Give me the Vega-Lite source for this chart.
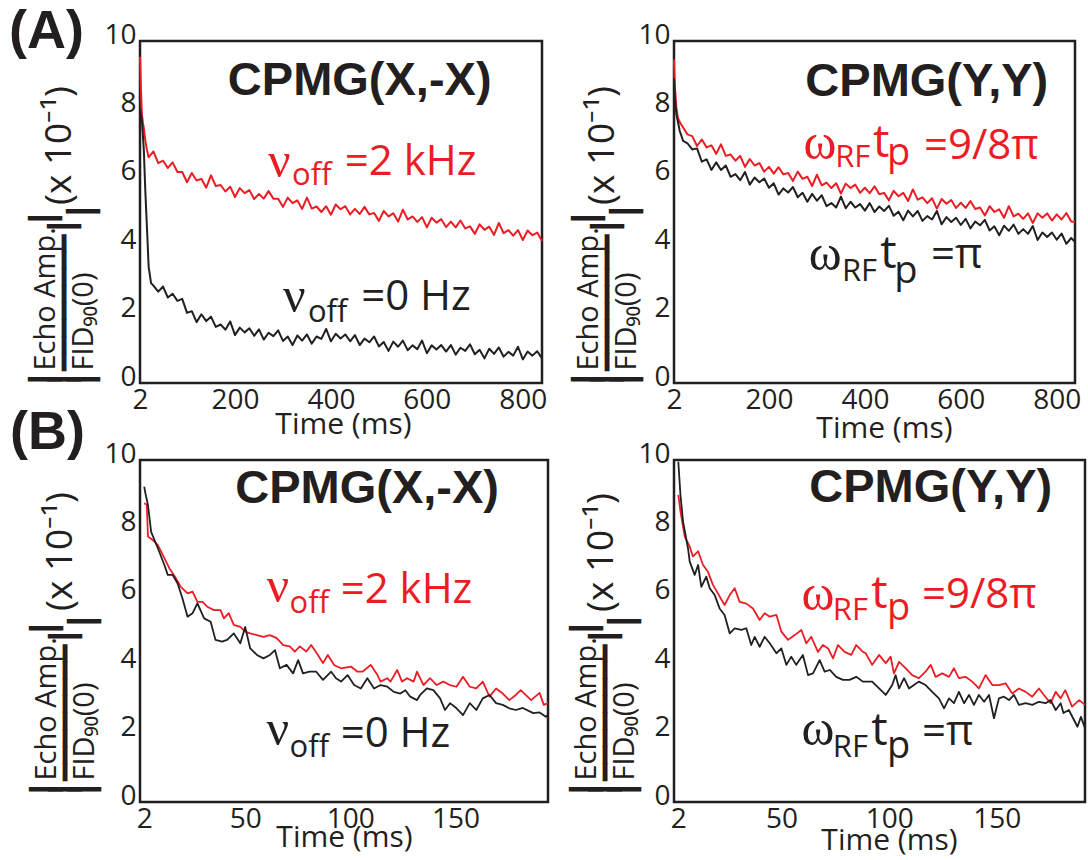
{
  "$schema": "https://vega.github.io/schema/vega-lite/v6.json",
  "padding": {"left": 7, "top": 3, "right": 0, "bottom": 0},
  "background": "white",
  "datasets": {
    "lines": [
      {"p":"AL","s":"r","t":2,"v":9.54},{"p":"AL","s":"r","t":4,"v":8.6},{"p":"AL","s":"r","t":6,"v":7.85},{"p":"AL","s":"r","t":8,"v":7.62},{"p":"AL","s":"r","t":10,"v":7.45},{"p":"AL","s":"r","t":13,"v":7.1},{"p":"AL","s":"r","t":16,"v":6.85},{"p":"AL","s":"r","t":20,"v":6.6},
      {"p":"AL","s":"r","t":30,"v":6.77},{"p":"AL","s":"r","t":40,"v":6.43},{"p":"AL","s":"r","t":50,"v":6.5},{"p":"AL","s":"r","t":60,"v":6.29},{"p":"AL","s":"r","t":70,"v":6.45},{"p":"AL","s":"r","t":80,"v":6.17},{"p":"AL","s":"r","t":90,"v":6.17},{"p":"AL","s":"r","t":100,"v":5.87},
      {"p":"AL","s":"r","t":110,"v":6.14},{"p":"AL","s":"r","t":120,"v":5.92},{"p":"AL","s":"r","t":130,"v":5.97},{"p":"AL","s":"r","t":140,"v":5.71},{"p":"AL","s":"r","t":150,"v":6.07},{"p":"AL","s":"r","t":160,"v":5.76},{"p":"AL","s":"r","t":170,"v":5.79},{"p":"AL","s":"r","t":180,"v":5.6},
      {"p":"AL","s":"r","t":190,"v":5.74},{"p":"AL","s":"r","t":200,"v":5.44},{"p":"AL","s":"r","t":210,"v":5.7},{"p":"AL","s":"r","t":220,"v":5.55},{"p":"AL","s":"r","t":230,"v":5.64},{"p":"AL","s":"r","t":240,"v":5.38},{"p":"AL","s":"r","t":250,"v":5.53},{"p":"AL","s":"r","t":260,"v":5.39},
      {"p":"AL","s":"r","t":270,"v":5.61},{"p":"AL","s":"r","t":280,"v":5.39},{"p":"AL","s":"r","t":290,"v":5.39},{"p":"AL","s":"r","t":300,"v":5.15},{"p":"AL","s":"r","t":310,"v":5.42},{"p":"AL","s":"r","t":320,"v":5.26},{"p":"AL","s":"r","t":330,"v":5.34},{"p":"AL","s":"r","t":340,"v":5.09},
      {"p":"AL","s":"r","t":350,"v":5.42},{"p":"AL","s":"r","t":360,"v":5.1},{"p":"AL","s":"r","t":370,"v":5.16},{"p":"AL","s":"r","t":380,"v":5.0},{"p":"AL","s":"r","t":390,"v":5.17},{"p":"AL","s":"r","t":400,"v":4.92},{"p":"AL","s":"r","t":410,"v":5.22},{"p":"AL","s":"r","t":420,"v":5.08},
      {"p":"AL","s":"r","t":430,"v":5.17},{"p":"AL","s":"r","t":440,"v":4.93},{"p":"AL","s":"r","t":450,"v":5.09},{"p":"AL","s":"r","t":460,"v":4.94},{"p":"AL","s":"r","t":470,"v":5.15},{"p":"AL","s":"r","t":480,"v":4.93},{"p":"AL","s":"r","t":490,"v":4.97},{"p":"AL","s":"r","t":500,"v":4.74},
      {"p":"AL","s":"r","t":510,"v":5.03},{"p":"AL","s":"r","t":520,"v":4.87},{"p":"AL","s":"r","t":530,"v":4.96},{"p":"AL","s":"r","t":540,"v":4.72},{"p":"AL","s":"r","t":550,"v":5.07},{"p":"AL","s":"r","t":560,"v":4.78},{"p":"AL","s":"r","t":570,"v":4.87},{"p":"AL","s":"r","t":580,"v":4.71},
      {"p":"AL","s":"r","t":590,"v":4.85},{"p":"AL","s":"r","t":600,"v":4.55},{"p":"AL","s":"r","t":610,"v":4.83},{"p":"AL","s":"r","t":620,"v":4.69},{"p":"AL","s":"r","t":630,"v":4.79},{"p":"AL","s":"r","t":640,"v":4.56},{"p":"AL","s":"r","t":650,"v":4.72},{"p":"AL","s":"r","t":660,"v":4.55},
      {"p":"AL","s":"r","t":670,"v":4.75},{"p":"AL","s":"r","t":680,"v":4.52},{"p":"AL","s":"r","t":690,"v":4.58},{"p":"AL","s":"r","t":700,"v":4.36},{"p":"AL","s":"r","t":710,"v":4.64},{"p":"AL","s":"r","t":720,"v":4.48},{"p":"AL","s":"r","t":730,"v":4.57},{"p":"AL","s":"r","t":740,"v":4.33},
      {"p":"AL","s":"r","t":750,"v":4.68},{"p":"AL","s":"r","t":760,"v":4.38},{"p":"AL","s":"r","t":770,"v":4.47},{"p":"AL","s":"r","t":780,"v":4.31},{"p":"AL","s":"r","t":790,"v":4.47},{"p":"AL","s":"r","t":800,"v":4.18},{"p":"AL","s":"r","t":810,"v":4.46},{"p":"AL","s":"r","t":820,"v":4.32},
      {"p":"AL","s":"r","t":830,"v":4.4},{"p":"AL","s":"r","t":840,"v":4.15},

      {"p":"AL","s":"k","t":2,"v":8.0},{"p":"AL","s":"k","t":4,"v":7.85},{"p":"AL","s":"k","t":6,"v":7.69},{"p":"AL","s":"k","t":10,"v":6.81},{"p":"AL","s":"k","t":13,"v":5.64},{"p":"AL","s":"k","t":17,"v":4.38},{"p":"AL","s":"k","t":20,"v":3.4},{"p":"AL","s":"k","t":25,"v":2.92},
      {"p":"AL","s":"k","t":30,"v":2.85},{"p":"AL","s":"k","t":40,"v":2.67},{"p":"AL","s":"k","t":50,"v":2.82},{"p":"AL","s":"k","t":60,"v":2.5},{"p":"AL","s":"k","t":70,"v":2.61},{"p":"AL","s":"k","t":80,"v":2.4},{"p":"AL","s":"k","t":90,"v":2.46},{"p":"AL","s":"k","t":100,"v":2.05},
      {"p":"AL","s":"k","t":110,"v":2.1},{"p":"AL","s":"k","t":120,"v":1.78},{"p":"AL","s":"k","t":130,"v":2.01},{"p":"AL","s":"k","t":140,"v":1.81},{"p":"AL","s":"k","t":150,"v":1.94},{"p":"AL","s":"k","t":160,"v":1.64},{"p":"AL","s":"k","t":170,"v":1.71},{"p":"AL","s":"k","t":180,"v":1.56},
      {"p":"AL","s":"k","t":190,"v":1.8},{"p":"AL","s":"k","t":200,"v":1.4},{"p":"AL","s":"k","t":210,"v":1.62},{"p":"AL","s":"k","t":220,"v":1.48},{"p":"AL","s":"k","t":230,"v":1.6},{"p":"AL","s":"k","t":240,"v":1.38},{"p":"AL","s":"k","t":250,"v":1.57},{"p":"AL","s":"k","t":260,"v":1.27},
      {"p":"AL","s":"k","t":270,"v":1.47},{"p":"AL","s":"k","t":280,"v":1.37},{"p":"AL","s":"k","t":290,"v":1.54},{"p":"AL","s":"k","t":300,"v":1.23},{"p":"AL","s":"k","t":310,"v":1.36},{"p":"AL","s":"k","t":320,"v":1.11},{"p":"AL","s":"k","t":330,"v":1.39},{"p":"AL","s":"k","t":340,"v":1.24},
      {"p":"AL","s":"k","t":350,"v":1.42},{"p":"AL","s":"k","t":360,"v":1.15},{"p":"AL","s":"k","t":370,"v":1.36},{"p":"AL","s":"k","t":380,"v":1.29},{"p":"AL","s":"k","t":390,"v":1.58},{"p":"AL","s":"k","t":400,"v":1.22},{"p":"AL","s":"k","t":410,"v":1.44},{"p":"AL","s":"k","t":420,"v":1.3},
      {"p":"AL","s":"k","t":430,"v":1.42},{"p":"AL","s":"k","t":440,"v":1.22},{"p":"AL","s":"k","t":450,"v":1.4},{"p":"AL","s":"k","t":460,"v":1.11},{"p":"AL","s":"k","t":470,"v":1.3},{"p":"AL","s":"k","t":480,"v":1.19},{"p":"AL","s":"k","t":490,"v":1.36},{"p":"AL","s":"k","t":500,"v":1.07},
      {"p":"AL","s":"k","t":510,"v":1.2},{"p":"AL","s":"k","t":520,"v":0.94},{"p":"AL","s":"k","t":530,"v":1.21},{"p":"AL","s":"k","t":540,"v":1.06},{"p":"AL","s":"k","t":550,"v":1.24},{"p":"AL","s":"k","t":560,"v":0.96},{"p":"AL","s":"k","t":570,"v":1.1},{"p":"AL","s":"k","t":580,"v":0.99},
      {"p":"AL","s":"k","t":590,"v":1.24},{"p":"AL","s":"k","t":600,"v":0.87},{"p":"AL","s":"k","t":610,"v":1.1},{"p":"AL","s":"k","t":620,"v":0.98},{"p":"AL","s":"k","t":630,"v":1.11},{"p":"AL","s":"k","t":640,"v":0.92},{"p":"AL","s":"k","t":650,"v":1.11},{"p":"AL","s":"k","t":660,"v":0.83},
      {"p":"AL","s":"k","t":670,"v":1.03},{"p":"AL","s":"k","t":680,"v":0.94},{"p":"AL","s":"k","t":690,"v":1.13},{"p":"AL","s":"k","t":700,"v":0.84},{"p":"AL","s":"k","t":710,"v":0.97},{"p":"AL","s":"k","t":720,"v":0.72},{"p":"AL","s":"k","t":730,"v":1.0},{"p":"AL","s":"k","t":740,"v":0.85},
      {"p":"AL","s":"k","t":750,"v":1.04},{"p":"AL","s":"k","t":760,"v":0.77},{"p":"AL","s":"k","t":770,"v":0.91},{"p":"AL","s":"k","t":780,"v":0.8},{"p":"AL","s":"k","t":790,"v":1.06},{"p":"AL","s":"k","t":800,"v":0.69},{"p":"AL","s":"k","t":810,"v":0.92},{"p":"AL","s":"k","t":820,"v":0.8},
      {"p":"AL","s":"k","t":830,"v":0.93},{"p":"AL","s":"k","t":840,"v":0.72},

      {"p":"AR","s":"r","t":2,"v":9.46},{"p":"AR","s":"r","t":4,"v":8.63},{"p":"AR","s":"r","t":7,"v":8.05},{"p":"AR","s":"r","t":10,"v":7.76},{"p":"AR","s":"r","t":15,"v":7.6},{"p":"AR","s":"r","t":21,"v":7.47},
      {"p":"AR","s":"r","t":30,"v":7.27},{"p":"AR","s":"r","t":40,"v":7.22},{"p":"AR","s":"r","t":50,"v":6.93},{"p":"AR","s":"r","t":60,"v":7.12},{"p":"AR","s":"r","t":70,"v":6.89},{"p":"AR","s":"r","t":80,"v":6.95},{"p":"AR","s":"r","t":90,"v":6.7},{"p":"AR","s":"r","t":100,"v":6.98},
      {"p":"AR","s":"r","t":110,"v":6.64},{"p":"AR","s":"r","t":120,"v":6.68},{"p":"AR","s":"r","t":130,"v":6.5},{"p":"AR","s":"r","t":140,"v":6.64},{"p":"AR","s":"r","t":150,"v":6.32},{"p":"AR","s":"r","t":160,"v":6.55},{"p":"AR","s":"r","t":170,"v":6.36},{"p":"AR","s":"r","t":180,"v":6.43},
      {"p":"AR","s":"r","t":190,"v":6.18},{"p":"AR","s":"r","t":200,"v":6.32},{"p":"AR","s":"r","t":210,"v":6.12},{"p":"AR","s":"r","t":220,"v":6.31},{"p":"AR","s":"r","t":230,"v":6.1},{"p":"AR","s":"r","t":240,"v":6.14},{"p":"AR","s":"r","t":250,"v":5.91},{"p":"AR","s":"r","t":260,"v":6.18},
      {"p":"AR","s":"r","t":270,"v":5.97},{"p":"AR","s":"r","t":280,"v":6.03},{"p":"AR","s":"r","t":290,"v":5.76},{"p":"AR","s":"r","t":300,"v":6.09},{"p":"AR","s":"r","t":310,"v":5.78},{"p":"AR","s":"r","t":320,"v":5.86},{"p":"AR","s":"r","t":330,"v":5.7},{"p":"AR","s":"r","t":340,"v":5.84},
      {"p":"AR","s":"r","t":350,"v":5.54},{"p":"AR","s":"r","t":360,"v":5.83},{"p":"AR","s":"r","t":370,"v":5.7},{"p":"AR","s":"r","t":380,"v":5.8},{"p":"AR","s":"r","t":390,"v":5.56},{"p":"AR","s":"r","t":400,"v":5.71},{"p":"AR","s":"r","t":410,"v":5.55},{"p":"AR","s":"r","t":420,"v":5.75},
      {"p":"AR","s":"r","t":430,"v":5.52},{"p":"AR","s":"r","t":440,"v":5.56},{"p":"AR","s":"r","t":450,"v":5.34},{"p":"AR","s":"r","t":460,"v":5.62},{"p":"AR","s":"r","t":470,"v":5.46},{"p":"AR","s":"r","t":480,"v":5.56},{"p":"AR","s":"r","t":490,"v":5.32},{"p":"AR","s":"r","t":500,"v":5.66},
      {"p":"AR","s":"r","t":510,"v":5.36},{"p":"AR","s":"r","t":520,"v":5.43},{"p":"AR","s":"r","t":530,"v":5.26},{"p":"AR","s":"r","t":540,"v":5.4},{"p":"AR","s":"r","t":550,"v":5.1},{"p":"AR","s":"r","t":560,"v":5.38},{"p":"AR","s":"r","t":570,"v":5.24},{"p":"AR","s":"r","t":580,"v":5.35},
      {"p":"AR","s":"r","t":590,"v":5.12},{"p":"AR","s":"r","t":600,"v":5.27},{"p":"AR","s":"r","t":610,"v":5.12},{"p":"AR","s":"r","t":620,"v":5.32},{"p":"AR","s":"r","t":630,"v":5.09},{"p":"AR","s":"r","t":640,"v":5.13},{"p":"AR","s":"r","t":650,"v":4.9},{"p":"AR","s":"r","t":660,"v":5.17},
      {"p":"AR","s":"r","t":670,"v":5.0},{"p":"AR","s":"r","t":680,"v":5.08},{"p":"AR","s":"r","t":690,"v":4.83},{"p":"AR","s":"r","t":700,"v":5.17},{"p":"AR","s":"r","t":710,"v":4.87},{"p":"AR","s":"r","t":720,"v":4.95},{"p":"AR","s":"r","t":730,"v":4.8},{"p":"AR","s":"r","t":740,"v":4.96},
      {"p":"AR","s":"r","t":750,"v":4.68},{"p":"AR","s":"r","t":760,"v":4.96},{"p":"AR","s":"r","t":770,"v":4.83},{"p":"AR","s":"r","t":780,"v":4.96},{"p":"AR","s":"r","t":790,"v":4.75},{"p":"AR","s":"r","t":800,"v":4.93},{"p":"AR","s":"r","t":810,"v":4.78},{"p":"AR","s":"r","t":820,"v":4.97},
      {"p":"AR","s":"r","t":830,"v":4.72},{"p":"AR","s":"r","t":838,"v":4.71},

      {"p":"AR","s":"k","t":2,"v":8.9},{"p":"AR","s":"k","t":4,"v":8.3},{"p":"AR","s":"k","t":7,"v":7.86},{"p":"AR","s":"k","t":14,"v":7.37},{"p":"AR","s":"k","t":21,"v":7.08},
      {"p":"AR","s":"k","t":30,"v":7.01},{"p":"AR","s":"k","t":40,"v":6.83},{"p":"AR","s":"k","t":50,"v":6.86},{"p":"AR","s":"k","t":60,"v":6.47},{"p":"AR","s":"k","t":70,"v":6.54},{"p":"AR","s":"k","t":80,"v":6.23},{"p":"AR","s":"k","t":90,"v":6.45},{"p":"AR","s":"k","t":100,"v":6.23},
      {"p":"AR","s":"k","t":110,"v":6.36},{"p":"AR","s":"k","t":120,"v":6.03},{"p":"AR","s":"k","t":130,"v":6.11},{"p":"AR","s":"k","t":140,"v":5.93},{"p":"AR","s":"k","t":150,"v":6.17},{"p":"AR","s":"k","t":160,"v":5.8},{"p":"AR","s":"k","t":170,"v":6.01},{"p":"AR","s":"k","t":180,"v":5.87},
      {"p":"AR","s":"k","t":190,"v":5.98},{"p":"AR","s":"k","t":200,"v":5.71},{"p":"AR","s":"k","t":210,"v":5.84},{"p":"AR","s":"k","t":220,"v":5.51},{"p":"AR","s":"k","t":230,"v":5.69},{"p":"AR","s":"k","t":240,"v":5.57},{"p":"AR","s":"k","t":250,"v":5.73},{"p":"AR","s":"k","t":260,"v":5.43},
      {"p":"AR","s":"k","t":270,"v":5.56},{"p":"AR","s":"k","t":280,"v":5.3},{"p":"AR","s":"k","t":290,"v":5.53},{"p":"AR","s":"k","t":300,"v":5.33},{"p":"AR","s":"k","t":310,"v":5.49},{"p":"AR","s":"k","t":320,"v":5.17},{"p":"AR","s":"k","t":330,"v":5.26},{"p":"AR","s":"k","t":340,"v":5.13},
      {"p":"AR","s":"k","t":350,"v":5.45},{"p":"AR","s":"k","t":360,"v":5.11},{"p":"AR","s":"k","t":370,"v":5.3},{"p":"AR","s":"k","t":380,"v":5.13},{"p":"AR","s":"k","t":390,"v":5.23},{"p":"AR","s":"k","t":400,"v":5.04},{"p":"AR","s":"k","t":410,"v":5.26},{"p":"AR","s":"k","t":420,"v":5.0},
      {"p":"AR","s":"k","t":430,"v":5.16},{"p":"AR","s":"k","t":440,"v":5.03},{"p":"AR","s":"k","t":450,"v":5.18},{"p":"AR","s":"k","t":460,"v":4.89},{"p":"AR","s":"k","t":470,"v":5.01},{"p":"AR","s":"k","t":480,"v":4.76},{"p":"AR","s":"k","t":490,"v":5.04},{"p":"AR","s":"k","t":500,"v":4.87},
      {"p":"AR","s":"k","t":510,"v":5.03},{"p":"AR","s":"k","t":520,"v":4.74},{"p":"AR","s":"k","t":530,"v":4.88},{"p":"AR","s":"k","t":540,"v":4.78},{"p":"AR","s":"k","t":550,"v":5.03},{"p":"AR","s":"k","t":560,"v":4.64},{"p":"AR","s":"k","t":570,"v":4.85},{"p":"AR","s":"k","t":580,"v":4.71},
      {"p":"AR","s":"k","t":590,"v":4.83},{"p":"AR","s":"k","t":600,"v":4.62},{"p":"AR","s":"k","t":610,"v":4.8},{"p":"AR","s":"k","t":620,"v":4.52},{"p":"AR","s":"k","t":630,"v":4.72},{"p":"AR","s":"k","t":640,"v":4.61},{"p":"AR","s":"k","t":650,"v":4.77},{"p":"AR","s":"k","t":660,"v":4.46},
      {"p":"AR","s":"k","t":670,"v":4.58},{"p":"AR","s":"k","t":680,"v":4.32},{"p":"AR","s":"k","t":690,"v":4.6},{"p":"AR","s":"k","t":700,"v":4.45},{"p":"AR","s":"k","t":710,"v":4.63},{"p":"AR","s":"k","t":720,"v":4.36},{"p":"AR","s":"k","t":730,"v":4.5},{"p":"AR","s":"k","t":740,"v":4.36},
      {"p":"AR","s":"k","t":750,"v":4.59},{"p":"AR","s":"k","t":760,"v":4.18},{"p":"AR","s":"k","t":770,"v":4.4},{"p":"AR","s":"k","t":780,"v":4.27},{"p":"AR","s":"k","t":790,"v":4.4},{"p":"AR","s":"k","t":800,"v":4.19},{"p":"AR","s":"k","t":810,"v":4.37},{"p":"AR","s":"k","t":820,"v":4.07},
      {"p":"AR","s":"k","t":830,"v":4.24},{"p":"AR","s":"k","t":838,"v":4.13},

      {"p":"BL","s":"r","t":2,"v":8.73},{"p":"BL","s":"r","t":3.2,"v":8.7},{"p":"BL","s":"r","t":3.8,"v":7.76},{"p":"BL","s":"r","t":6.1,"v":7.66},{"p":"BL","s":"r","t":8.5,"v":7.51},{"p":"BL","s":"r","t":11.6,"v":7.13},{"p":"BL","s":"r","t":14,"v":6.83},{"p":"BL","s":"r","t":17.1,"v":6.54},
      {"p":"BL","s":"r","t":19.4,"v":6.29},{"p":"BL","s":"r","t":22.6,"v":6.1},{"p":"BL","s":"r","t":25,"v":6.15},{"p":"BL","s":"r","t":27.3,"v":5.85},{"p":"BL","s":"r","t":29.7,"v":5.85},{"p":"BL","s":"r","t":32,"v":5.71},{"p":"BL","s":"r","t":35.2,"v":5.61},{"p":"BL","s":"r","t":38.3,"v":5.61},
      {"p":"BL","s":"r","t":39.9,"v":5.37},{"p":"BL","s":"r","t":42.2,"v":5.52},{"p":"BL","s":"r","t":44.6,"v":5.18},{"p":"BL","s":"r","t":47.7,"v":5.12},{"p":"BL","s":"r","t":50,"v":4.98},{"p":"BL","s":"r","t":52.4,"v":4.93},{"p":"BL","s":"r","t":55.6,"v":4.88},{"p":"BL","s":"r","t":58.7,"v":4.83},
      {"p":"BL","s":"r","t":61.8,"v":4.88},{"p":"BL","s":"r","t":65,"v":4.79},{"p":"BL","s":"r","t":68.1,"v":4.59},{"p":"BL","s":"r","t":71.2,"v":4.55},{"p":"BL","s":"r","t":73.6,"v":4.4},{"p":"BL","s":"r","t":76,"v":4.55},{"p":"BL","s":"r","t":79.1,"v":4.4},{"p":"BL","s":"r","t":81.4,"v":4.59},
      {"p":"BL","s":"r","t":84.6,"v":4.3},{"p":"BL","s":"r","t":87,"v":4.06},{"p":"BL","s":"r","t":89.3,"v":4.3},{"p":"BL","s":"r","t":92.4,"v":4.0},{"p":"BL","s":"r","t":95.6,"v":3.91},{"p":"BL","s":"r","t":100.3,"v":3.96},{"p":"BL","s":"r","t":103.4,"v":3.81},{"p":"BL","s":"r","t":105.8,"v":3.81},
      {"p":"BL","s":"r","t":109.7,"v":4.01},{"p":"BL","s":"r","t":112.9,"v":3.71},{"p":"BL","s":"r","t":114.4,"v":3.52},{"p":"BL","s":"r","t":117.6,"v":3.62},{"p":"BL","s":"r","t":119.1,"v":3.52},{"p":"BL","s":"r","t":122.3,"v":3.86},{"p":"BL","s":"r","t":124.6,"v":3.52},{"p":"BL","s":"r","t":127,"v":3.62},
      {"p":"BL","s":"r","t":130.1,"v":3.52},{"p":"BL","s":"r","t":131.7,"v":3.81},{"p":"BL","s":"r","t":134.8,"v":3.42},{"p":"BL","s":"r","t":137.9,"v":3.62},{"p":"BL","s":"r","t":141.1,"v":3.42},{"p":"BL","s":"r","t":144.2,"v":3.52},{"p":"BL","s":"r","t":147.4,"v":3.42},{"p":"BL","s":"r","t":150.5,"v":3.37},
      {"p":"BL","s":"r","t":153.6,"v":3.66},{"p":"BL","s":"r","t":156.8,"v":3.37},{"p":"BL","s":"r","t":159.9,"v":3.32},{"p":"BL","s":"r","t":163,"v":3.52},{"p":"BL","s":"r","t":166.2,"v":3.08},{"p":"BL","s":"r","t":169.3,"v":3.32},{"p":"BL","s":"r","t":172.5,"v":3.17},{"p":"BL","s":"r","t":175.6,"v":2.98},
      {"p":"BL","s":"r","t":178.7,"v":3.13},{"p":"BL","s":"r","t":181,"v":3.27},{"p":"BL","s":"r","t":186,"v":2.98},{"p":"BL","s":"r","t":190,"v":3.19},{"p":"BL","s":"r","t":192,"v":2.84},{"p":"BL","s":"r","t":194,"v":2.89},

      {"p":"BL","s":"k","t":2,"v":9.22},{"p":"BL","s":"k","t":2.6,"v":9.02},{"p":"BL","s":"k","t":3.8,"v":8.68},{"p":"BL","s":"k","t":5.3,"v":7.9},{"p":"BL","s":"k","t":8.5,"v":7.42},{"p":"BL","s":"k","t":11.6,"v":6.93},{"p":"BL","s":"k","t":13.2,"v":6.64},{"p":"BL","s":"k","t":15.5,"v":6.64},
      {"p":"BL","s":"k","t":17.9,"v":6.39},{"p":"BL","s":"k","t":20.2,"v":5.95},{"p":"BL","s":"k","t":22.6,"v":5.42},{"p":"BL","s":"k","t":25,"v":5.52},{"p":"BL","s":"k","t":27.3,"v":5.81},{"p":"BL","s":"k","t":30.5,"v":5.37},{"p":"BL","s":"k","t":33.6,"v":5.27},{"p":"BL","s":"k","t":35.9,"v":4.74},
      {"p":"BL","s":"k","t":39,"v":4.69},{"p":"BL","s":"k","t":41.4,"v":4.74},{"p":"BL","s":"k","t":44.6,"v":4.93},{"p":"BL","s":"k","t":47.7,"v":4.64},{"p":"BL","s":"k","t":50,"v":5.12},{"p":"BL","s":"k","t":52.4,"v":4.49},{"p":"BL","s":"k","t":55.6,"v":4.3},{"p":"BL","s":"k","t":58.7,"v":4.2},
      {"p":"BL","s":"k","t":61.8,"v":4.3},{"p":"BL","s":"k","t":64.2,"v":4.44},{"p":"BL","s":"k","t":66.5,"v":3.91},{"p":"BL","s":"k","t":69.7,"v":4.01},{"p":"BL","s":"k","t":72.8,"v":3.76},{"p":"BL","s":"k","t":75.2,"v":4.15},{"p":"BL","s":"k","t":77.5,"v":3.76},{"p":"BL","s":"k","t":80.6,"v":3.81},
      {"p":"BL","s":"k","t":83.8,"v":3.81},{"p":"BL","s":"k","t":87,"v":3.57},{"p":"BL","s":"k","t":90.9,"v":3.81},{"p":"BL","s":"k","t":93.2,"v":3.62},{"p":"BL","s":"k","t":95.6,"v":3.52},{"p":"BL","s":"k","t":98.7,"v":3.71},{"p":"BL","s":"k","t":101.8,"v":3.42},{"p":"BL","s":"k","t":105,"v":3.32},
      {"p":"BL","s":"k","t":108.1,"v":3.62},{"p":"BL","s":"k","t":111.3,"v":3.32},{"p":"BL","s":"k","t":114.4,"v":3.42},{"p":"BL","s":"k","t":117.6,"v":3.37},{"p":"BL","s":"k","t":120.7,"v":3.22},{"p":"BL","s":"k","t":123.8,"v":3.17},{"p":"BL","s":"k","t":126.2,"v":3.27},{"p":"BL","s":"k","t":128.5,"v":3.08},
      {"p":"BL","s":"k","t":131.7,"v":2.98},{"p":"BL","s":"k","t":133.2,"v":3.13},{"p":"BL","s":"k","t":136.4,"v":3.32},{"p":"BL","s":"k","t":139.5,"v":3.27},{"p":"BL","s":"k","t":142.7,"v":3.03},{"p":"BL","s":"k","t":145,"v":2.69},{"p":"BL","s":"k","t":147.4,"v":2.89},{"p":"BL","s":"k","t":150.5,"v":2.74},
      {"p":"BL","s":"k","t":153.6,"v":2.54},{"p":"BL","s":"k","t":156.8,"v":2.89},{"p":"BL","s":"k","t":159.9,"v":2.69},{"p":"BL","s":"k","t":163,"v":3.03},{"p":"BL","s":"k","t":166.2,"v":3.13},{"p":"BL","s":"k","t":169.3,"v":2.89},{"p":"BL","s":"k","t":172.5,"v":2.84},{"p":"BL","s":"k","t":175.6,"v":2.74},
      {"p":"BL","s":"k","t":178.7,"v":2.69},{"p":"BL","s":"k","t":182,"v":2.75},{"p":"BL","s":"k","t":187,"v":2.6},{"p":"BL","s":"k","t":190,"v":2.62},{"p":"BL","s":"k","t":193,"v":2.49},{"p":"BL","s":"k","t":194,"v":2.55},

      {"p":"BR","s":"r","t":2,"v":8.98},{"p":"BR","s":"r","t":3,"v":8.5},{"p":"BR","s":"r","t":5,"v":7.76},{"p":"BR","s":"r","t":7.3,"v":7.47},{"p":"BR","s":"r","t":8.8,"v":7.18},{"p":"BR","s":"r","t":11.2,"v":7.33},{"p":"BR","s":"r","t":13.5,"v":6.93},{"p":"BR","s":"r","t":15.8,"v":6.73},
      {"p":"BR","s":"r","t":18.1,"v":6.35},{"p":"BR","s":"r","t":20.4,"v":6.1},{"p":"BR","s":"r","t":23.5,"v":5.76},{"p":"BR","s":"r","t":25.9,"v":6.05},{"p":"BR","s":"r","t":28.2,"v":6.25},{"p":"BR","s":"r","t":30.5,"v":5.85},{"p":"BR","s":"r","t":33.6,"v":5.8},{"p":"BR","s":"r","t":36.7,"v":5.66},
      {"p":"BR","s":"r","t":39.8,"v":5.32},{"p":"BR","s":"r","t":42.1,"v":5.52},{"p":"BR","s":"r","t":44.5,"v":5.42},{"p":"BR","s":"r","t":47.6,"v":5.47},{"p":"BR","s":"r","t":49.9,"v":4.98},{"p":"BR","s":"r","t":53,"v":4.74},{"p":"BR","s":"r","t":56.1,"v":4.88},{"p":"BR","s":"r","t":59.2,"v":5.03},
      {"p":"BR","s":"r","t":61.5,"v":4.64},{"p":"BR","s":"r","t":63.8,"v":4.83},{"p":"BR","s":"r","t":66.9,"v":4.39},{"p":"BR","s":"r","t":69.2,"v":4.59},{"p":"BR","s":"r","t":71.6,"v":4.49},{"p":"BR","s":"r","t":73.9,"v":4.2},{"p":"BR","s":"r","t":76.2,"v":4.59},{"p":"BR","s":"r","t":79.3,"v":4.39},
      {"p":"BR","s":"r","t":82.4,"v":4.3},{"p":"BR","s":"r","t":84.7,"v":4.59},{"p":"BR","s":"r","t":87.8,"v":4.39},{"p":"BR","s":"r","t":89.1,"v":4.35},{"p":"BR","s":"r","t":92.1,"v":4.01},{"p":"BR","s":"r","t":95.3,"v":4.3},{"p":"BR","s":"r","t":98.4,"v":4.06},{"p":"BR","s":"r","t":100.7,"v":4.25},
      {"p":"BR","s":"r","t":102.2,"v":3.76},{"p":"BR","s":"r","t":104.6,"v":4.1},{"p":"BR","s":"r","t":107.7,"v":3.91},{"p":"BR","s":"r","t":110.7,"v":3.71},{"p":"BR","s":"r","t":113.8,"v":3.62},{"p":"BR","s":"r","t":116.9,"v":3.81},{"p":"BR","s":"r","t":119.3,"v":4.01},{"p":"BR","s":"r","t":121.6,"v":3.66},
      {"p":"BR","s":"r","t":124.7,"v":3.76},{"p":"BR","s":"r","t":127.8,"v":3.66},{"p":"BR","s":"r","t":130.1,"v":3.91},{"p":"BR","s":"r","t":132.4,"v":3.62},{"p":"BR","s":"r","t":135.5,"v":3.66},{"p":"BR","s":"r","t":138.6,"v":3.52},{"p":"BR","s":"r","t":141.7,"v":3.32},{"p":"BR","s":"r","t":144.8,"v":3.71},
      {"p":"BR","s":"r","t":147.9,"v":3.42},{"p":"BR","s":"r","t":151,"v":3.42},{"p":"BR","s":"r","t":154.1,"v":3.47},{"p":"BR","s":"r","t":157.2,"v":3.17},{"p":"BR","s":"r","t":160.3,"v":3.32},{"p":"BR","s":"r","t":163.4,"v":3.22},{"p":"BR","s":"r","t":166.5,"v":3.08},{"p":"BR","s":"r","t":169.6,"v":3.32},
      {"p":"BR","s":"r","t":171.9,"v":3.13},{"p":"BR","s":"r","t":175,"v":2.89},{"p":"BR","s":"r","t":177.4,"v":3.22},{"p":"BR","s":"r","t":179.7,"v":3.03},{"p":"BR","s":"r","t":181.8,"v":3.27},{"p":"BR","s":"r","t":185,"v":2.79},{"p":"BR","s":"r","t":188.3,"v":2.98},{"p":"BR","s":"r","t":191,"v":2.84},

      {"p":"BR","s":"k","t":2,"v":9.95},{"p":"BR","s":"k","t":3,"v":8.98},{"p":"BR","s":"k","t":4.2,"v":8.2},{"p":"BR","s":"k","t":6.5,"v":7.42},{"p":"BR","s":"k","t":7.3,"v":7.03},{"p":"BR","s":"k","t":9.6,"v":6.64},{"p":"BR","s":"k","t":11.2,"v":6.93},{"p":"BR","s":"k","t":12.7,"v":6.29},
      {"p":"BR","s":"k","t":15,"v":6.59},{"p":"BR","s":"k","t":16.6,"v":6.25},{"p":"BR","s":"k","t":18.9,"v":6.05},{"p":"BR","s":"k","t":21.2,"v":5.66},{"p":"BR","s":"k","t":23.5,"v":5.47},{"p":"BR","s":"k","t":25.9,"v":4.93},{"p":"BR","s":"k","t":28.2,"v":5.08},{"p":"BR","s":"k","t":31.3,"v":5.03},
      {"p":"BR","s":"k","t":33.6,"v":5.08},{"p":"BR","s":"k","t":35.9,"v":4.59},{"p":"BR","s":"k","t":37.5,"v":4.83},{"p":"BR","s":"k","t":39.8,"v":4.54},{"p":"BR","s":"k","t":42.1,"v":4.83},{"p":"BR","s":"k","t":44.5,"v":4.64},{"p":"BR","s":"k","t":47.6,"v":4.35},{"p":"BR","s":"k","t":49.9,"v":4.49},
      {"p":"BR","s":"k","t":52.2,"v":4.01},{"p":"BR","s":"k","t":54.5,"v":4.25},{"p":"BR","s":"k","t":56.8,"v":4.01},{"p":"BR","s":"k","t":59.9,"v":4.3},{"p":"BR","s":"k","t":62.3,"v":3.71},{"p":"BR","s":"k","t":64.6,"v":3.76},{"p":"BR","s":"k","t":67.7,"v":4.15},{"p":"BR","s":"k","t":70,"v":3.81},
      {"p":"BR","s":"k","t":72.4,"v":3.86},{"p":"BR","s":"k","t":75.4,"v":3.66},{"p":"BR","s":"k","t":78.5,"v":3.57},{"p":"BR","s":"k","t":81.6,"v":3.57},{"p":"BR","s":"k","t":84.7,"v":3.66},{"p":"BR","s":"k","t":87.8,"v":3.52},{"p":"BR","s":"k","t":89.1,"v":3.52},{"p":"BR","s":"k","t":92.1,"v":3.52},
      {"p":"BR","s":"k","t":95.3,"v":3.32},{"p":"BR","s":"k","t":98.4,"v":3.13},{"p":"BR","s":"k","t":101.4,"v":3.42},{"p":"BR","s":"k","t":103,"v":3.71},{"p":"BR","s":"k","t":104.6,"v":3.32},{"p":"BR","s":"k","t":106.9,"v":3.62},{"p":"BR","s":"k","t":109.2,"v":3.32},{"p":"BR","s":"k","t":111.5,"v":3.42},
      {"p":"BR","s":"k","t":113.8,"v":3.52},{"p":"BR","s":"k","t":116.9,"v":3.42},{"p":"BR","s":"k","t":120,"v":3.22},{"p":"BR","s":"k","t":123.1,"v":3.03},{"p":"BR","s":"k","t":125.5,"v":2.74},{"p":"BR","s":"k","t":127.8,"v":3.03},{"p":"BR","s":"k","t":130.1,"v":2.89},{"p":"BR","s":"k","t":132.4,"v":3.22},
      {"p":"BR","s":"k","t":134.8,"v":2.89},{"p":"BR","s":"k","t":137.1,"v":3.13},{"p":"BR","s":"k","t":139.4,"v":2.84},{"p":"BR","s":"k","t":141.7,"v":3.13},{"p":"BR","s":"k","t":144.1,"v":2.93},{"p":"BR","s":"k","t":146.4,"v":3.13},{"p":"BR","s":"k","t":148.7,"v":2.45},{"p":"BR","s":"k","t":151,"v":3.03},
      {"p":"BR","s":"k","t":153.3,"v":3.08},{"p":"BR","s":"k","t":155.7,"v":2.98},{"p":"BR","s":"k","t":158,"v":3.13},{"p":"BR","s":"k","t":160.3,"v":2.84},{"p":"BR","s":"k","t":163.4,"v":2.89},{"p":"BR","s":"k","t":166.5,"v":2.84},{"p":"BR","s":"k","t":169.6,"v":2.93},{"p":"BR","s":"k","t":172.7,"v":2.89},
      {"p":"BR","s":"k","t":175,"v":2.98},{"p":"BR","s":"k","t":177.4,"v":2.69},{"p":"BR","s":"k","t":179.7,"v":2.89},{"p":"BR","s":"k","t":181,"v":2.6},{"p":"BR","s":"k","t":183.5,"v":2.69},{"p":"BR","s":"k","t":187.5,"v":2.2},{"p":"BR","s":"k","t":189.1,"v":2.49},{"p":"BR","s":"k","t":191,"v":2.16}
    ],
    "labels": [
      {"p":"AL","kind":"title","s":"k","t":460,"v":8.42,"text":"CPMG(X,-X)"},
      {"p":"AL","kind":"sym","s":"r","t":269,"v":6.02,"text":"ν"},
      {"p":"AL","kind":"sub","s":"r","t":319,"v":5.79,"text":"off"},
      {"p":"AL","kind":"main","s":"r","t":429,"v":6.08,"text":"=2 kHz"},
      {"p":"AL","kind":"sym","s":"k","t":300,"v":2.08,"text":"ν"},
      {"p":"AL","kind":"sub","s":"k","t":352,"v":1.79,"text":"off"},
      {"p":"AL","kind":"main","s":"k","t":463,"v":2.13,"text":"=0 Hz"},

      {"p":"AR","kind":"title","s":"k","t":529,"v":8.39,"text":"CPMG(Y,Y)"},
      {"p":"AR","kind":"sym","s":"r","t":272,"v":6.54,"text":"ω"},
      {"p":"AR","kind":"sub","s":"r","t":338,"v":6.31,"text":"RF"},
      {"p":"AR","kind":"tt","s":"r","t":417,"v":6.6,"text":"t"},
      {"p":"AR","kind":"pp","s":"r","t":446,"v":6.37,"text":"p"},
      {"p":"AR","kind":"main","s":"r","t":523,"v":6.54,"text":"=9/8π"},
      {"p":"AR","kind":"sym","s":"k","t":283,"v":3.31,"text":"ω"},
      {"p":"AR","kind":"sub","s":"k","t":352,"v":2.97,"text":"RF"},
      {"p":"AR","kind":"tt","s":"k","t":432,"v":3.35,"text":"t"},
      {"p":"AR","kind":"pp","s":"k","t":461,"v":2.92,"text":"p"},
      {"p":"AR","kind":"main","s":"k","t":538,"v":3.35,"text":"=π"},

      {"p":"BL","kind":"title","s":"k","t":108,"v":8.73,"text":"CPMG(X,-X)"},
      {"p":"BL","kind":"sym","s":"r","t":60.1,"v":5.86,"text":"ν"},
      {"p":"BL","kind":"sub","s":"r","t":71.1,"v":5.52,"text":"off"},
      {"p":"BL","kind":"main","s":"r","t":95.4,"v":5.81,"text":"=2 kHz"},
      {"p":"BL","kind":"sym","s":"k","t":60.1,"v":1.67,"text":"ν"},
      {"p":"BL","kind":"sub","s":"k","t":71.1,"v":1.32,"text":"off"},
      {"p":"BL","kind":"main","s":"k","t":95.4,"v":1.62,"text":"=0 Hz"},

      {"p":"BR","kind":"title","s":"k","t":119.3,"v":8.78,"text":"CPMG(Y,Y)"},
      {"p":"BR","kind":"sym","s":"r","t":59.2,"v":5.61,"text":"ω"},
      {"p":"BR","kind":"sub","s":"r","t":73.8,"v":5.32,"text":"RF"},
      {"p":"BR","kind":"tt","s":"r","t":91.7,"v":5.66,"text":"t"},
      {"p":"BR","kind":"pp","s":"r","t":99,"v":5.32,"text":"p"},
      {"p":"BR","kind":"main","s":"r","t":115.2,"v":5.66,"text":"=9/8π"},
      {"p":"BR","kind":"sym","s":"k","t":59.2,"v":1.67,"text":"ω"},
      {"p":"BR","kind":"sub","s":"k","t":73.8,"v":1.32,"text":"RF"},
      {"p":"BR","kind":"tt","s":"k","t":91.7,"v":1.67,"text":"t"},
      {"p":"BR","kind":"pp","s":"k","t":99,"v":1.29,"text":"p"},
      {"p":"BR","kind":"main","s":"k","t":115.2,"v":1.67,"text":"=π"}
    ]
  },
  "columns": 2,
  "spacing": {"row": 77, "column": 126},
  "bounds": "flush",
  "align": "none",
  "concat": [
    {
      "width": 402, "height": 342,
      "title": {"text": "(A)", "anchor": "start", "frame": "bounds", "font": "Liberation Sans", "fontSize": 54, "fontWeight": "bold", "color": "#231f20", "offset": -81, "baseline": "alphabetic", "dx": -22},
      "layer": [
        {"data": {"name": "lines"}, "transform": [{"filter": "datum.p === 'AL'"}],
         "mark": {"type": "line", "strokeWidth": 2, "strokeJoin": "round"},
         "encoding": {
           "x": {"field": "t", "type": "quantitative", "scale": {"domain": [2, 840], "nice": false, "zero": false}, "axis": {"values": [2, 200, 400, 600, 800], "title": "Time (ms)", "titleX": 203, "titleY": 50}},
           "y": {"field": "v", "type": "quantitative", "scale": {"domain": [0, 10], "nice": false, "zero": false}, "axis": {"values": [0, 2, 4, 6, 8, 10], "title": ["┃Echo Amp.┃", "┃━━━━━━━━┃", "┃FID₉₀(0)\u00a0\u00a0\u00a0\u00a0\u00a0\u00a0\u00a0┃"], "titleX": -86, "titleY": 346}},
           "color": {"field": "s", "type": "nominal", "scale": {"domain": ["r", "k"], "range": ["#ed1c24", "#231f20"]}, "legend": null}
         }},
        {"data": {"name": "labels"}, "transform": [{"filter": "datum.p === 'AL' && datum.kind === 'title'"}],
         "mark": {"type": "text", "font": "Liberation Sans", "fontWeight": "bold", "fontSize": 47, "align": "center", "baseline": "alphabetic"},
         "encoding": {
           "x": {"field": "t", "type": "quantitative", "scale": {"domain": [2, 840], "nice": false, "zero": false}},
           "y": {"field": "v", "type": "quantitative", "scale": {"domain": [0, 10], "nice": false, "zero": false}, "axis": {"orient": "left", "labels": false, "title": "(x 10⁻¹)", "titleFontSize": 37, "titleX": -81, "titleY": 104, "titleAlign": "center", "titleBaseline": "middle", "titleLineHeight": 40}},
           "text": {"field": "text"},
           "color": {"field": "s", "type": "nominal", "scale": {"domain": ["r", "k"], "range": ["#ed1c24", "#231f20"]}, "legend": null}
         }},
        {"data": {"name": "labels"}, "transform": [{"filter": "datum.p === 'AL' && datum.kind === 'sym'"}],
         "mark": {"type": "text", "font": "Liberation Serif", "fontSize": 50, "align": "left", "baseline": "alphabetic"},
         "encoding": {
           "x": {"field": "t", "type": "quantitative", "scale": {"domain": [2, 840], "nice": false, "zero": false}},
           "y": {"field": "v", "type": "quantitative", "scale": {"domain": [0, 10], "nice": false, "zero": false}, "axis": null},
           "text": {"field": "text"},
           "color": {"field": "s", "type": "nominal", "scale": {"domain": ["r", "k"], "range": ["#ed1c24", "#231f20"]}, "legend": null}
         }},
        {"data": {"name": "labels"}, "transform": [{"filter": "datum.p === 'AL' && datum.kind === 'sub'"}],
         "mark": {"type": "text", "font": "Open Sans", "fontSize": 31, "align": "left", "baseline": "alphabetic"},
         "encoding": {
           "x": {"field": "t", "type": "quantitative", "scale": {"domain": [2, 840], "nice": false, "zero": false}},
           "y": {"field": "v", "type": "quantitative", "scale": {"domain": [0, 10], "nice": false, "zero": false}, "axis": null},
           "text": {"field": "text"},
           "color": {"field": "s", "type": "nominal", "scale": {"domain": ["r", "k"], "range": ["#ed1c24", "#231f20"]}, "legend": null}
         }},
        {"data": {"name": "labels"}, "transform": [{"filter": "datum.p === 'AL' && datum.kind === 'main'"}],
         "mark": {"type": "text", "font": "Open Sans", "fontSize": 42, "align": "left", "baseline": "alphabetic"},
         "encoding": {
           "x": {"field": "t", "type": "quantitative", "scale": {"domain": [2, 840], "nice": false, "zero": false}},
           "y": {"field": "v", "type": "quantitative", "scale": {"domain": [0, 10], "nice": false, "zero": false}, "axis": null},
           "text": {"field": "text"},
           "color": {"field": "s", "type": "nominal", "scale": {"domain": ["r", "k"], "range": ["#ed1c24", "#231f20"]}, "legend": null}
         }}
      ],
      "resolve": {"axis": {"y": "independent"}}
    },
    {
      "width": 401, "height": 342,
      "layer": [
        {"data": {"name": "lines"}, "transform": [{"filter": "datum.p === 'AR'"}],
         "mark": {"type": "line", "strokeWidth": 2, "strokeJoin": "round"},
         "encoding": {
           "x": {"field": "t", "type": "quantitative", "scale": {"domain": [2, 838], "nice": false, "zero": false}, "axis": {"values": [2, 200, 400, 600, 800], "title": "Time (ms)", "titleX": 210, "titleY": 54}},
           "y": {"field": "v", "type": "quantitative", "scale": {"domain": [0, 10], "nice": false, "zero": false}, "axis": {"values": [0, 2, 4, 6, 8, 10], "title": ["┃Echo Amp.┃", "┃━━━━━━━━┃", "┃FID₉₀(0)\u00a0\u00a0\u00a0\u00a0\u00a0\u00a0\u00a0┃"], "titleX": -77, "titleY": 346}},
           "color": {"field": "s", "type": "nominal", "scale": {"domain": ["r", "k"], "range": ["#ed1c24", "#231f20"]}, "legend": null}
         }},
        {"data": {"name": "labels"}, "transform": [{"filter": "datum.p === 'AR' && datum.kind === 'title'"}],
         "mark": {"type": "text", "font": "Liberation Sans", "fontWeight": "bold", "fontSize": 47, "align": "center", "baseline": "alphabetic"},
         "encoding": {
           "x": {"field": "t", "type": "quantitative", "scale": {"domain": [2, 838], "nice": false, "zero": false}},
           "y": {"field": "v", "type": "quantitative", "scale": {"domain": [0, 10], "nice": false, "zero": false}, "axis": {"orient": "left", "labels": false, "title": "(x 10⁻¹)", "titleFontSize": 37, "titleX": -72, "titleY": 104, "titleAlign": "center", "titleBaseline": "middle", "titleLineHeight": 40}},
           "text": {"field": "text"},
           "color": {"field": "s", "type": "nominal", "scale": {"domain": ["r", "k"], "range": ["#ed1c24", "#231f20"]}, "legend": null}
         }},
        {"data": {"name": "labels"}, "transform": [{"filter": "datum.p === 'AR' && datum.kind === 'sym'"}],
         "mark": {"type": "text", "font": "Liberation Serif", "fontSize": 50, "align": "left", "baseline": "alphabetic"},
         "encoding": {
           "x": {"field": "t", "type": "quantitative", "scale": {"domain": [2, 838], "nice": false, "zero": false}},
           "y": {"field": "v", "type": "quantitative", "scale": {"domain": [0, 10], "nice": false, "zero": false}, "axis": null},
           "text": {"field": "text"},
           "color": {"field": "s", "type": "nominal", "scale": {"domain": ["r", "k"], "range": ["#ed1c24", "#231f20"]}, "legend": null}
         }},
        {"data": {"name": "labels"}, "transform": [{"filter": "datum.p === 'AR' && datum.kind === 'sub'"}],
         "mark": {"type": "text", "font": "Open Sans", "fontSize": 31, "align": "left", "baseline": "alphabetic"},
         "encoding": {
           "x": {"field": "t", "type": "quantitative", "scale": {"domain": [2, 838], "nice": false, "zero": false}},
           "y": {"field": "v", "type": "quantitative", "scale": {"domain": [0, 10], "nice": false, "zero": false}, "axis": null},
           "text": {"field": "text"},
           "color": {"field": "s", "type": "nominal", "scale": {"domain": ["r", "k"], "range": ["#ed1c24", "#231f20"]}, "legend": null}
         }},
        {"data": {"name": "labels"}, "transform": [{"filter": "datum.p === 'AR' && datum.kind === 'tt'"}],
         "mark": {"type": "text", "font": "Open Sans", "fontSize": 46, "align": "left", "baseline": "alphabetic"},
         "encoding": {
           "x": {"field": "t", "type": "quantitative", "scale": {"domain": [2, 838], "nice": false, "zero": false}},
           "y": {"field": "v", "type": "quantitative", "scale": {"domain": [0, 10], "nice": false, "zero": false}, "axis": null},
           "text": {"field": "text"},
           "color": {"field": "s", "type": "nominal", "scale": {"domain": ["r", "k"], "range": ["#ed1c24", "#231f20"]}, "legend": null}
         }},
        {"data": {"name": "labels"}, "transform": [{"filter": "datum.p === 'AR' && datum.kind === 'pp'"}],
         "mark": {"type": "text", "font": "Open Sans", "fontSize": 38, "align": "left", "baseline": "alphabetic"},
         "encoding": {
           "x": {"field": "t", "type": "quantitative", "scale": {"domain": [2, 838], "nice": false, "zero": false}},
           "y": {"field": "v", "type": "quantitative", "scale": {"domain": [0, 10], "nice": false, "zero": false}, "axis": null},
           "text": {"field": "text"},
           "color": {"field": "s", "type": "nominal", "scale": {"domain": ["r", "k"], "range": ["#ed1c24", "#231f20"]}, "legend": null}
         }},
        {"data": {"name": "labels"}, "transform": [{"filter": "datum.p === 'AR' && datum.kind === 'main'"}],
         "mark": {"type": "text", "font": "Open Sans", "fontSize": 42, "align": "left", "baseline": "alphabetic"},
         "encoding": {
           "x": {"field": "t", "type": "quantitative", "scale": {"domain": [2, 838], "nice": false, "zero": false}},
           "y": {"field": "v", "type": "quantitative", "scale": {"domain": [0, 10], "nice": false, "zero": false}, "axis": null},
           "text": {"field": "text"},
           "color": {"field": "s", "type": "nominal", "scale": {"domain": ["r", "k"], "range": ["#ed1c24", "#231f20"]}, "legend": null}
         }}
      ],
      "resolve": {"axis": {"y": "independent"}}
    },
    {
      "width": 408, "height": 342,
      "title": {"text": "(B)", "anchor": "start", "frame": "bounds", "font": "Liberation Sans", "fontSize": 54, "fontWeight": "bold", "color": "#231f20", "offset": -63, "baseline": "alphabetic", "dx": -22},
      "layer": [
        {"data": {"name": "lines"}, "transform": [{"filter": "datum.p === 'BL'"}],
         "mark": {"type": "line", "strokeWidth": 1.8, "strokeJoin": "round"},
         "encoding": {
           "x": {"field": "t", "type": "quantitative", "scale": {"domain": [0, 194], "nice": false, "zero": false}, "axis": {"values": [2, 50, 100, 150], "title": "Time (ms)", "titleX": 204, "titleY": 44}},
           "y": {"field": "v", "type": "quantitative", "scale": {"domain": [0, 10], "nice": false, "zero": false}, "axis": {"values": [0, 2, 4, 6, 8, 10], "title": ["┃Echo Amp.┃", "┃━━━━━━━━┃", "┃FID₉₀(0)\u00a0\u00a0\u00a0\u00a0\u00a0\u00a0\u00a0┃"], "titleX": -85, "titleY": 337}},
           "color": {"field": "s", "type": "nominal", "scale": {"domain": ["r", "k"], "range": ["#ed1c24", "#231f20"]}, "legend": null}
         }},
        {"data": {"name": "labels"}, "transform": [{"filter": "datum.p === 'BL' && datum.kind === 'title'"}],
         "mark": {"type": "text", "font": "Liberation Sans", "fontWeight": "bold", "fontSize": 47, "align": "center", "baseline": "alphabetic"},
         "encoding": {
           "x": {"field": "t", "type": "quantitative", "scale": {"domain": [0, 194], "nice": false, "zero": false}},
           "y": {"field": "v", "type": "quantitative", "scale": {"domain": [0, 10], "nice": false, "zero": false}, "axis": {"orient": "left", "labels": false, "title": "(x 10⁻¹)", "titleFontSize": 37, "titleX": -80, "titleY": 91, "titleAlign": "center", "titleBaseline": "middle", "titleLineHeight": 40}},
           "text": {"field": "text"},
           "color": {"field": "s", "type": "nominal", "scale": {"domain": ["r", "k"], "range": ["#ed1c24", "#231f20"]}, "legend": null}
         }},
        {"data": {"name": "labels"}, "transform": [{"filter": "datum.p === 'BL' && datum.kind === 'sym'"}],
         "mark": {"type": "text", "font": "Liberation Serif", "fontSize": 50, "align": "left", "baseline": "alphabetic"},
         "encoding": {
           "x": {"field": "t", "type": "quantitative", "scale": {"domain": [0, 194], "nice": false, "zero": false}},
           "y": {"field": "v", "type": "quantitative", "scale": {"domain": [0, 10], "nice": false, "zero": false}, "axis": null},
           "text": {"field": "text"},
           "color": {"field": "s", "type": "nominal", "scale": {"domain": ["r", "k"], "range": ["#ed1c24", "#231f20"]}, "legend": null}
         }},
        {"data": {"name": "labels"}, "transform": [{"filter": "datum.p === 'BL' && datum.kind === 'sub'"}],
         "mark": {"type": "text", "font": "Open Sans", "fontSize": 31, "align": "left", "baseline": "alphabetic"},
         "encoding": {
           "x": {"field": "t", "type": "quantitative", "scale": {"domain": [0, 194], "nice": false, "zero": false}},
           "y": {"field": "v", "type": "quantitative", "scale": {"domain": [0, 10], "nice": false, "zero": false}, "axis": null},
           "text": {"field": "text"},
           "color": {"field": "s", "type": "nominal", "scale": {"domain": ["r", "k"], "range": ["#ed1c24", "#231f20"]}, "legend": null}
         }},
        {"data": {"name": "labels"}, "transform": [{"filter": "datum.p === 'BL' && datum.kind === 'main'"}],
         "mark": {"type": "text", "font": "Open Sans", "fontSize": 42, "align": "left", "baseline": "alphabetic"},
         "encoding": {
           "x": {"field": "t", "type": "quantitative", "scale": {"domain": [0, 194], "nice": false, "zero": false}},
           "y": {"field": "v", "type": "quantitative", "scale": {"domain": [0, 10], "nice": false, "zero": false}, "axis": null},
           "text": {"field": "text"},
           "color": {"field": "s", "type": "nominal", "scale": {"domain": ["r", "k"], "range": ["#ed1c24", "#231f20"]}, "legend": null}
         }}
      ],
      "resolve": {"axis": {"y": "independent"}}
    },
    {
      "width": 411, "height": 342,
      "layer": [
        {"data": {"name": "lines"}, "transform": [{"filter": "datum.p === 'BR'"}],
         "mark": {"type": "line", "strokeWidth": 1.8, "strokeJoin": "round"},
         "encoding": {
           "x": {"field": "t", "type": "quantitative", "scale": {"domain": [0, 191], "nice": false, "zero": false}, "axis": {"values": [2, 50, 100, 150], "title": "Time (ms)", "titleX": 215, "titleY": 47}},
           "y": {"field": "v", "type": "quantitative", "scale": {"domain": [0, 10], "nice": false, "zero": false}, "axis": {"values": [0, 2, 4, 6, 8, 10], "title": ["┃Echo Amp.┃", "┃━━━━━━━━┃", "┃FID₉₀(0)\u00a0\u00a0\u00a0\u00a0\u00a0\u00a0\u00a0┃"], "titleX": -79, "titleY": 337}},
           "color": {"field": "s", "type": "nominal", "scale": {"domain": ["r", "k"], "range": ["#ed1c24", "#231f20"]}, "legend": null}
         }},
        {"data": {"name": "labels"}, "transform": [{"filter": "datum.p === 'BR' && datum.kind === 'title'"}],
         "mark": {"type": "text", "font": "Liberation Sans", "fontWeight": "bold", "fontSize": 47, "align": "center", "baseline": "alphabetic"},
         "encoding": {
           "x": {"field": "t", "type": "quantitative", "scale": {"domain": [0, 191], "nice": false, "zero": false}},
           "y": {"field": "v", "type": "quantitative", "scale": {"domain": [0, 10], "nice": false, "zero": false}, "axis": {"orient": "left", "labels": false, "title": "(x 10⁻¹)", "titleFontSize": 37, "titleX": -73, "titleY": 92, "titleAlign": "center", "titleBaseline": "middle", "titleLineHeight": 40}},
           "text": {"field": "text"},
           "color": {"field": "s", "type": "nominal", "scale": {"domain": ["r", "k"], "range": ["#ed1c24", "#231f20"]}, "legend": null}
         }},
        {"data": {"name": "labels"}, "transform": [{"filter": "datum.p === 'BR' && datum.kind === 'sym'"}],
         "mark": {"type": "text", "font": "Liberation Serif", "fontSize": 50, "align": "left", "baseline": "alphabetic"},
         "encoding": {
           "x": {"field": "t", "type": "quantitative", "scale": {"domain": [0, 191], "nice": false, "zero": false}},
           "y": {"field": "v", "type": "quantitative", "scale": {"domain": [0, 10], "nice": false, "zero": false}, "axis": null},
           "text": {"field": "text"},
           "color": {"field": "s", "type": "nominal", "scale": {"domain": ["r", "k"], "range": ["#ed1c24", "#231f20"]}, "legend": null}
         }},
        {"data": {"name": "labels"}, "transform": [{"filter": "datum.p === 'BR' && datum.kind === 'sub'"}],
         "mark": {"type": "text", "font": "Open Sans", "fontSize": 31, "align": "left", "baseline": "alphabetic"},
         "encoding": {
           "x": {"field": "t", "type": "quantitative", "scale": {"domain": [0, 191], "nice": false, "zero": false}},
           "y": {"field": "v", "type": "quantitative", "scale": {"domain": [0, 10], "nice": false, "zero": false}, "axis": null},
           "text": {"field": "text"},
           "color": {"field": "s", "type": "nominal", "scale": {"domain": ["r", "k"], "range": ["#ed1c24", "#231f20"]}, "legend": null}
         }},
        {"data": {"name": "labels"}, "transform": [{"filter": "datum.p === 'BR' && datum.kind === 'tt'"}],
         "mark": {"type": "text", "font": "Open Sans", "fontSize": 46, "align": "left", "baseline": "alphabetic"},
         "encoding": {
           "x": {"field": "t", "type": "quantitative", "scale": {"domain": [0, 191], "nice": false, "zero": false}},
           "y": {"field": "v", "type": "quantitative", "scale": {"domain": [0, 10], "nice": false, "zero": false}, "axis": null},
           "text": {"field": "text"},
           "color": {"field": "s", "type": "nominal", "scale": {"domain": ["r", "k"], "range": ["#ed1c24", "#231f20"]}, "legend": null}
         }},
        {"data": {"name": "labels"}, "transform": [{"filter": "datum.p === 'BR' && datum.kind === 'pp'"}],
         "mark": {"type": "text", "font": "Open Sans", "fontSize": 38, "align": "left", "baseline": "alphabetic"},
         "encoding": {
           "x": {"field": "t", "type": "quantitative", "scale": {"domain": [0, 191], "nice": false, "zero": false}},
           "y": {"field": "v", "type": "quantitative", "scale": {"domain": [0, 10], "nice": false, "zero": false}, "axis": null},
           "text": {"field": "text"},
           "color": {"field": "s", "type": "nominal", "scale": {"domain": ["r", "k"], "range": ["#ed1c24", "#231f20"]}, "legend": null}
         }},
        {"data": {"name": "labels"}, "transform": [{"filter": "datum.p === 'BR' && datum.kind === 'main'"}],
         "mark": {"type": "text", "font": "Open Sans", "fontSize": 42, "align": "left", "baseline": "alphabetic"},
         "encoding": {
           "x": {"field": "t", "type": "quantitative", "scale": {"domain": [0, 191], "nice": false, "zero": false}},
           "y": {"field": "v", "type": "quantitative", "scale": {"domain": [0, 10], "nice": false, "zero": false}, "axis": null},
           "text": {"field": "text"},
           "color": {"field": "s", "type": "nominal", "scale": {"domain": ["r", "k"], "range": ["#ed1c24", "#231f20"]}, "legend": null}
         }}
      ],
      "resolve": {"axis": {"y": "independent"}}
    }
  ],
  "config": {
    "view": {"stroke": "#231f20", "strokeWidth": 2.5},
    "axis": {"grid": false, "ticks": false, "tickSize": 0, "domain": false, "labelFont": "Open Sans", "labelFontSize": 28, "labelColor": "#231f20", "labelFlush": false, "labelOverlap": false, "titleFont": "Open Sans", "titleFontWeight": "normal", "titleColor": "#231f20"},
    "axisX": {"labelPadding": 3, "titleFontSize": 30, "titleBaseline": "alphabetic", "titleAlign": "center"},
    "axisY": {"labelPadding": 4, "labelOffset": -6, "titleFontSize": 29, "titleLineHeight": 19, "titleAlign": "left", "titleBaseline": "alphabetic", "titleAngle": 270}
  }
}
